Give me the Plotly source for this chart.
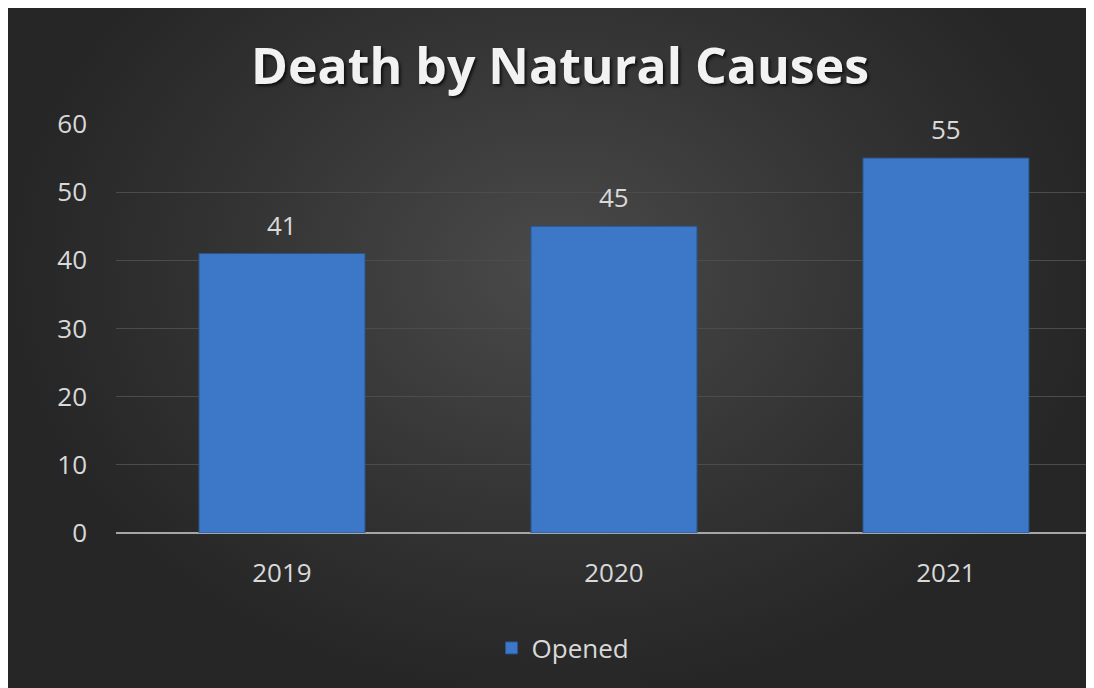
import plotly.graph_objects as go

W, H = 1094, 688

categories = ["2019", "2020", "2021"]
opened = [41, 45, 55]
y_ticks = [0, 10, 20, 30, 40, 50, 60]

title_text = "Death by Natural Causes"
series_name = "Opened"

fig = go.Figure()

# background panel with radial gradient (decoration on its own hidden subplot)
fig.add_trace(go.Scatter(
    x=[0, 1, 1, 0, 0], y=[0, 0, 1.24, 1.24, 0],
    mode="lines", fill="toself", line=dict(width=0),
    fillgradient=dict(type="radial", colorscale=[[0, "#4a4a4a"], [0.6, "#333333"], [1, "#262626"]]),
    hoverinfo="skip", showlegend=False, xaxis="x", yaxis="y",
))

fig.add_trace(go.Bar(
    x=categories, y=opened, name=series_name,
    marker=dict(color="#3c78c7", line=dict(color="#2b558c", width=1)),
    width=0.5, xaxis="x2", yaxis="y2", hoverinfo="x+y",
))

for i, v in enumerate(opened):
    fig.add_annotation(
        x=i, y=v, xref="x2", yref="y2", text=str(v), showarrow=False,
        yshift=29, font=dict(size=26, color="#d9d9d9", family="Open Sans"),
    )

fig.update_layout(
    width=W, height=H,
    margin=dict(l=0, r=0, t=0, b=0, autoexpand=False),
    paper_bgcolor="#2a2a2a",
    plot_bgcolor="rgba(0,0,0,0)",
    font=dict(family="Open Sans", color="#d9d9d9", size=26),
    title=dict(
        text=title_text, x=552 / W, xanchor="center", y=1 - 58 / H, yanchor="middle",
        font=dict(size=50, color="#f2f2f2", family="Open Sans", weight="bold",
                  shadow="2px 2px 3px rgba(0,0,0,0.7)"),
    ),
    xaxis=dict(domain=[0, 1], range=[0, 1], visible=False, fixedrange=True, automargin=False),
    yaxis=dict(domain=[0, 1], range=[0, 1], visible=False, fixedrange=True, automargin=False),
    xaxis2=dict(
        domain=[108 / W, 1], anchor="y2", type="category",
        range=[-0.5, 2.47], showgrid=False, showline=False, zeroline=False,
        tickfont=dict(size=26, color="#d9d9d9"), ticklabelstandoff=22, automargin=False,
    ),
    yaxis2=dict(
        domain=[1 - 525 / H, 1 - 116 / H], anchor="x2", range=[0, 60],
        tickvals=y_ticks, showgrid=True, gridcolor="#4c4c4c", gridwidth=1,
        zeroline=True, zerolinecolor="#a6a6a6", zerolinewidth=2,
        showline=False, tickfont=dict(size=26, color="#d9d9d9"), ticklabelstandoff=28,
        automargin=False,
    ),
    showlegend=True,
    legend=dict(
        orientation="h", x=0.442, xanchor="left", y=1 - 640 / H, yanchor="middle",
        font=dict(size=26, color="#d9d9d9"), bgcolor="rgba(0,0,0,0)",
    ),
)

fig.write_html("out.html", post_script="document.body.style.overflow='hidden';")
